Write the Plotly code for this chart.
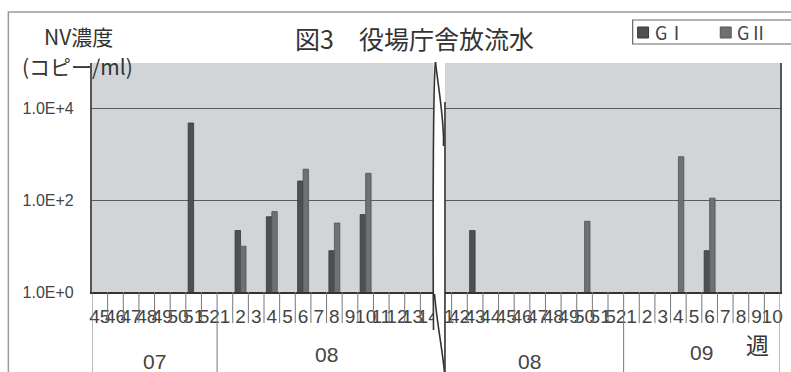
import plotly.graph_objects as go

# Week labels along the x axis: late 2007, early 2008, (break), late 2008, early 2009
weeks = ["45", "46", "47", "48", "49", "50", "51", "52",
         "1", "2", "3", "4", "5", "6", "7", "8", "9", "10", "11", "12", "13", "14",
         "41", "42", "43", "44", "45", "46", "47", "48", "49", "50", "51", "52",
         "1", "2", "3", "4", "5", "6", "7", "8", "9", "10"]

# NV concentration (copies/ml); None = not detected
g1 = [None, None, None, None, None, None, 4900, None,
      None, 22, None, 44, None, 265, None, 8, None, 49, None, None, None, None,
      None, None, 22, None, None, None, None, None, None, None, None, None,
      None, None, None, None, None, 8, None, None, None, None]
g2 = [None, None, None, None, None, None, None, None,
      None, 10, None, 57, None, 480, None, 32, None, 390, None, None, None, None,
      None, None, None, None, None, None, None, None, None, 35, None, None,
      None, None, None, 900, None, 112, None, None, None, None]

# Year groups: (label, first index, last index)
years = [("07", 0, 7), ("08", 8, 21), ("08", 22, 33), ("09", 34, 43)]

y_ticks = [1, 100, 10000]
y_ticklabels = ["1.0E+0", "1.0E+2", "1.0E+4"]

series = [("GⅠ", g1, "#4c5053", "#35383b"), ("GⅡ", g2, "#6d7174", "#525558")]

x = list(range(len(weeks)))

fig = go.Figure()
for name, vals, col, edge in series:
    fig.add_trace(go.Bar(x=x, y=vals, name=name, marker_color=col,
                         marker_line_color=edge, marker_line_width=0.8,
                         showlegend=False))

W, H = 791, 372
L, R, T, B = 92, 8, 63, 80
plot_h = H - T - B
plot_w = W - L - R


def px_x(p):
    return (p - L) / plot_w


def px_y(p):
    return (H - B - p) / plot_h


shapes = []
# boundary ticks under the axis
sep = {-0.5, 7.5, 33.5, 43.5}
for k in range(len(weeks) + 1):
    xb = k - 0.5
    shapes.append(dict(type="line", xref="x", yref="paper", x0=xb, x1=xb,
                       y0=0, y1=px_y(372) if xb in sep else px_y(323),
                       line=dict(color="#777", width=1)))

# outer frame
shapes.append(dict(type="rect", xref="paper", yref="paper",
                   x0=px_x(8), x1=px_x(800), y0=px_y(12), y1=px_y(380),
                   line=dict(color="#9a9a9a", width=1.5), layer="below"))

# legend box with swatches
shapes.append(dict(type="rect", xref="paper", yref="paper",
                   x0=px_x(635), x1=px_x(800), y0=px_y(20), y1=px_y(44),
                   fillcolor="white", line=dict(color="#666", width=1.2)))
legend_x = [(640, 655), (723, 738)]
annotations = []
for (sx, tx), (name, _, col, edge) in zip(legend_x, series):
    shapes.append(dict(type="rect", xref="paper", yref="paper",
                       x0=px_x(sx), x1=px_x(sx + 11), y0=px_y(27), y1=px_y(38),
                       fillcolor=col, line=dict(color=edge, width=1)))
    annotations.append(dict(text=name, x=px_x(tx), y=px_y(32.5),
                            xref="paper", yref="paper", xanchor="left", yanchor="middle",
                            showarrow=False,
                            font=dict(size=18, color="#444", family="Noto Sans CJK JP")))

# axis break marker
bx0, bx1 = px_x(435), px_x(446.5)
shapes.append(dict(type="rect", xref="paper", yref="paper",
                   x0=bx0, x1=bx1, y0=px_y(62), y1=px_y(372),
                   fillcolor="white", line=dict(width=0), layer="above"))


def path(points):
    s = "M {} {}".format(px_x(points[0][0]), px_y(points[0][1]))
    for a, b, c in zip(points[1::3], points[2::3], points[3::3]):
        s += " C {} {}, {} {}, {} {}".format(px_x(a[0]), px_y(a[1]),
                                              px_x(b[0]), px_y(b[1]),
                                              px_x(c[0]), px_y(c[1]))
    return s


brk = dict(type="path", xref="paper", yref="paper", layer="above",
           line=dict(color="#333", width=1.6))
shapes.append(dict(brk, path=path([(437, 62), (435, 75), (434, 200), (435, 330)])))
shapes.append(dict(brk, path=path([(437, 62), (440, 90), (446, 120), (445, 146)])))
shapes.append(dict(brk, path=path([(446.5, 102), (446.5, 200), (446.5, 300), (446.5, 372)])))
shapes.append(dict(brk, path=path([(436, 294), (438, 320), (444, 350), (446, 372)])))

cjk = "Noto Sans CJK JP"
texts = [
    ("図3　役場庁舎放流水", 416, 38, 25),
    ("NV濃度", 78, 36, 21),
    ("(コピー/ml)", 77, 66, 21),
    ("週", 760, 344, 23),
]
for t, tx, ty, sz in texts:
    annotations.append(dict(text=t, x=px_x(tx), y=px_y(ty), xref="paper", yref="paper",
                            xanchor="center", yanchor="middle", showarrow=False,
                            font=dict(size=sz, color="#333", family=cjk)))

narrow = "Liberation Sans Narrow, Liberation Sans"
year_y = {0: 361, 1: 354, 2: 361, 3: 352}
for i, (lab, a, b) in enumerate(years):
    annotations.append(dict(text=lab, x=(a + b) / 2, y=px_y(year_y[i]), xref="x", yref="paper",
                            xanchor="center", yanchor="middle", showarrow=False,
                            font=dict(size=21, color="#444", family=narrow)))

fig.update_layout(
    width=W, height=H,
    margin=dict(l=L, r=R, t=T, b=B),
    paper_bgcolor="white",
    plot_bgcolor="#d2d5d8",
    barmode="group", bargap=0.3, bargroupgap=0,
    showlegend=False,
    xaxis=dict(range=[-0.5, len(weeks) - 0.5], tickvals=x, ticktext=weeks, tickangle=0,
               showgrid=False, showline=True, linecolor="#333", linewidth=1.5, mirror=False,
               ticks="", ticklabelstandoff=6,
               tickfont=dict(size=19, color="#444", family=narrow),
               zeroline=False),
    yaxis=dict(type="log", range=[0, 5], tickvals=y_ticks,
               ticktext=[t + "\u00a0\u00a0\u00a0" for t in y_ticklabels],
               showgrid=True, gridcolor="#5a5d60", gridwidth=1,
               showline=True, linecolor="#555", linewidth=1.5, mirror=True,
               ticks="",
               tickfont=dict(size=16, color="#444", family="Liberation Sans"),
               zeroline=False),
    shapes=shapes,
    annotations=annotations,
)

fig.write_html("out.html")
